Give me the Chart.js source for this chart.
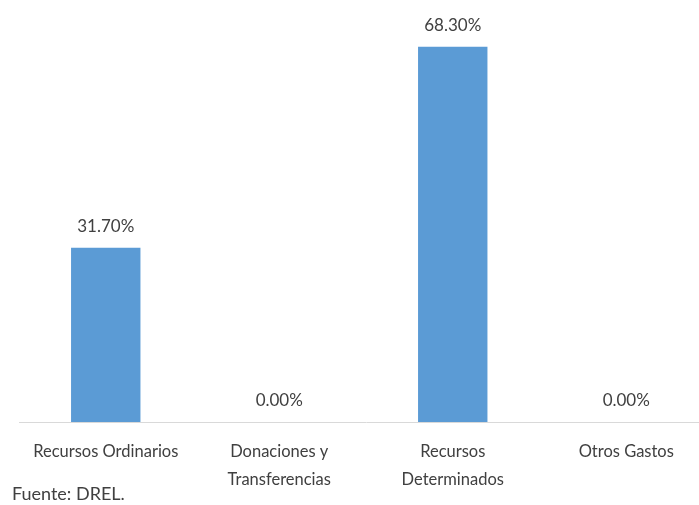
<!DOCTYPE html>
<html lang="es">
<head>
    <meta charset="UTF-8">
    <title>Fuentes de financiamiento</title>
    <script src="https://cdn.jsdelivr.net/npm/chart.js"></script>
    <style>
        html, body { margin: 0; padding: 0; background: #fff; overflow: hidden; }
        .wrap { position: relative; width: 699px; height: 505px; overflow: hidden; }
        canvas { position: absolute; left: 0; top: 0; }
        .fuente {
            position: absolute; left: 12px; top: 482px;
            font-family: Lato, sans-serif; font-size: 18px; color: #404040;
        }
    </style>
</head>
<body>
    <div class="wrap">
        <canvas id="grafica" width="713" height="505"></canvas>
        <div class="fuente">Fuente: DREL.</div>
    </div>

    <script>
        // datos
        const categorias = [
            'Recursos Ordinarios',
            ['Donaciones y', 'Transferencias'],
            ['Recursos', 'Determinados'],
            'Otros Gastos'
        ];
        const porcentajes = [31.70, 0.00, 68.30, 0.00];

        const textColor = '#404040';
        const fuente = "Lato, sans-serif";

        // etiquetas encima de cada barra
        const etiquetas = {
            id: 'etiquetas',
            afterDatasetsDraw(chart) {
                const ctx = chart.ctx;
                const meta = chart.getDatasetMeta(0);
                ctx.save();
                ctx.font = '17px ' + fuente;
                ctx.fillStyle = textColor;
                ctx.textAlign = 'center';
                ctx.textBaseline = 'middle';
                meta.data.forEach((bar, i) => {
                    ctx.fillText(porcentajes[i].toFixed(2) + '%', bar.x, bar.y - 21);
                });
                ctx.restore();
            }
        };

        new Chart(document.getElementById('grafica'), {
            type: 'bar',
            data: {
                labels: categorias,
                datasets: [{
                    data: porcentajes,
                    backgroundColor: '#5B9BD5',
                    barPercentage: 0.4,
                    categoryPercentage: 1
                }]
            },
            options: {
                responsive: false,
                animation: false,
                layout: { padding: { left: 19, right: 0, top: 10, bottom: 0 } },
                plugins: { legend: { display: false }, tooltip: { enabled: false } },
                scales: {
                    x: {
                        grid: { display: false, drawTicks: false },
                        border: { display: true, color: '#d9d9d9', width: 1 },
                        ticks: {
                            color: textColor,
                            padding: 16,
                            maxRotation: 0,
                            autoSkip: false,
                            font: { family: fuente, size: 16.5, lineHeight: 1.7 }
                        },
                        afterFit(scale) { scale.height = 83; }
                    },
                    y: {
                        display: false,
                        min: 0,
                        max: 75
                    }
                }
            },
            plugins: [etiquetas]
        });
    </script>
</body>
</html>
